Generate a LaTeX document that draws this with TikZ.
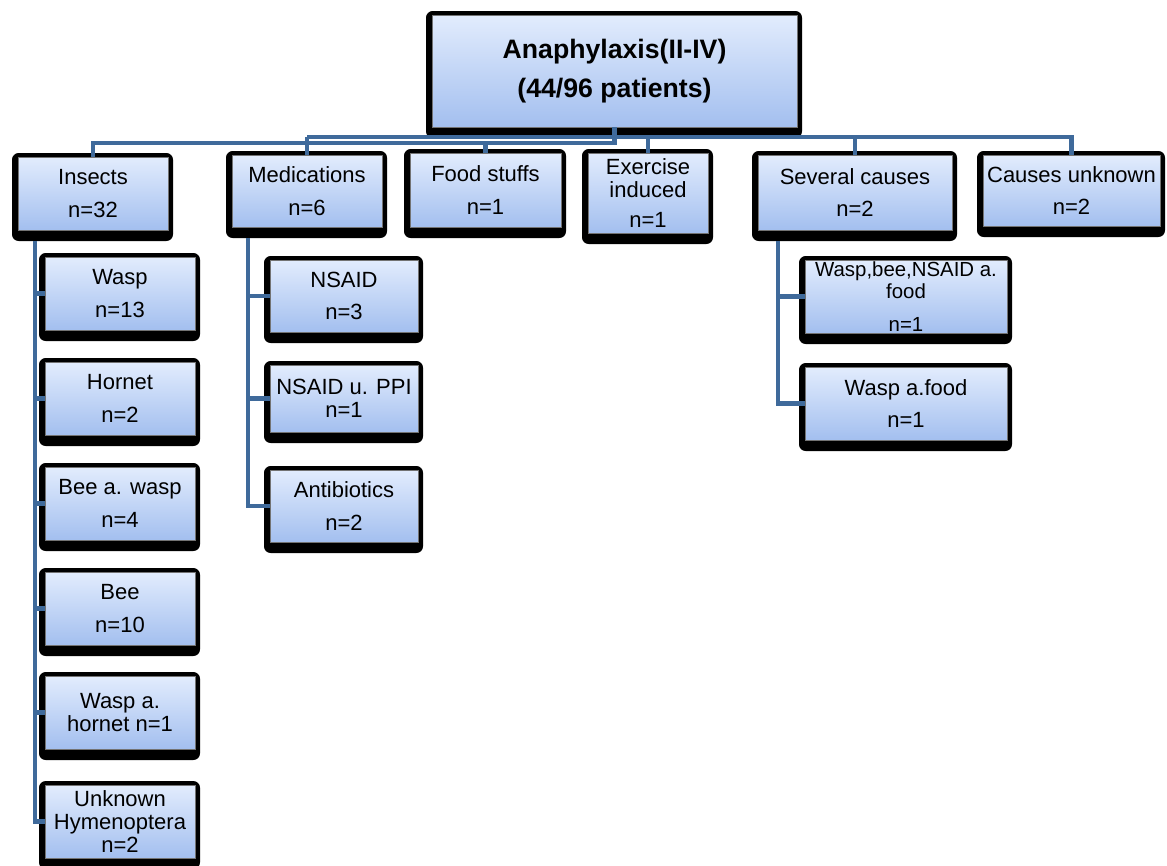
\documentclass[tikz,border=0pt]{standalone}
\usepackage{fontspec}
\setmainfont{Liberation Sans}
\definecolor{boxtop}{HTML}{E2ECFD}
\definecolor{boxbot}{HTML}{A3BFEF}
\definecolor{linec}{HTML}{3F6A9B}
\tikzset{
  conn/.style={draw=linec, line width=3.6pt},
  box/.style={rectangle, draw=black!55, line width=0.4pt, top color=boxtop, bottom color=boxbot,
    inner sep=0pt, align=center, text=black, font=\fontsize{16.5}{17.5}\selectfont},
  topbox/.style={box, font=\fontsize{20}{25}\selectfont\bfseries},
  smallbox/.style={box, font=\fontsize{15.3}{16.5}\selectfont},
  framebox/.style={fill=black, rounded corners=5pt}
}
% name, x1, y1, x2, y2, style, text
\newcommand\mkbox[7]{%
  \fill[framebox] (#2-6,#3-4) rectangle (#4+5,#5+11);
  \node[#6, minimum width={(#4-#2)*0.75pt}, minimum height={(#5-#3)*0.75pt}] (#1) at ({(#2+#4)/2},{(#3+#5)/2}) {#7};
}
\begin{document}
\begin{tikzpicture}[x=0.75pt,y=-0.75pt]
\useasboundingbox (0,0) rectangle (1167,865);
% top
\mkbox{top}{432}{15}{797}{127}{topbox}{Anaphylaxis(II-IV)\\[4pt](44/96 patients)}
% level 1
\mkbox{ins}{18}{157}{168}{230}{box}{Insects\\[7pt]n=32}
\mkbox{med}{232}{155}{382}{227}{box}{Medications\\[7pt]n=6}
\mkbox{food}{410}{153}{561}{227}{box}{Food stuffs\\[7pt]n=1}
\mkbox{exe}{588}{153}{708}{233}{box}{Exercise\\induced\\[5pt]n=1}
\mkbox{sev}{758}{155}{952}{230}{box}{Several causes\\[7pt]n=2}
\mkbox{cu}{983}{155}{1160}{226}{box}{Causes unknown\\[7pt]n=2}
% insects children
\mkbox{wasp}{45}{257}{195}{330}{box}{Wasp\\[7pt]n=13}
\mkbox{hornet}{45}{362}{195}{435}{box}{Hornet\\[7pt]n=2}
\mkbox{beewasp}{45}{467}{195}{540}{box}{Bee a. wasp\\[7pt]n=4}
\mkbox{bee}{45}{572}{195}{645}{box}{Bee\\[7pt]n=10}
\mkbox{wahor}{45}{676}{195}{749}{box}{Wasp a.\\hornet n=1}
\mkbox{hym}{45}{785}{195}{858}{box}{Unknown\\Hymenoptera\\n=2}
% medications children
\mkbox{nsaid}{270}{260}{418}{332}{box}{NSAID\\[7pt]n=3}
\mkbox{ppi}{270}{365}{418}{432}{box}{NSAID u. PPI\\n=1}
\mkbox{anti}{270}{470}{418}{542}{box}{Antibiotics\\[7pt]n=2}
% several causes children
\mkbox{wbnf}{805}{260}{1007}{333}{smallbox}{Wasp,bee,NSAID a.\\food\\[8pt]n=1}
\mkbox{waf}{805}{367}{1007}{440}{box}{Wasp a.food\\[7pt]n=1}
% connector helper coordinates
\coordinate (hl) at (0,143);
\coordinate (hu) at (0,137);
\coordinate (vI) at (35,0);
\coordinate (vM) at (248,0);
\coordinate (vS) at (778,0);
% top-level connectors
\draw[conn] (top.south) -- (top.south |- hl) -| (ins.north);
\draw[conn] (top.south |- hl) -| (food.north);
\draw[conn] (med.north |- hu) -| (cu.north);
\draw[conn] (med.north |- hu) -- (med.north);
\draw[conn] (exe.north |- hu) -- (exe.north);
\draw[conn] (sev.north |- hu) -- (sev.north);
% insects children
\draw[conn] ([yshift=-8.25pt]ins.south -| vI) |- (hym.west);
\foreach \n in {wasp,hornet,beewasp,bee,wahor}
  \draw[conn] (\n.west -| vI) -- (\n.west);
% medications children
\draw[conn] ([yshift=-8.25pt]med.south -| vM) |- (anti.west);
\foreach \n in {nsaid,ppi}
  \draw[conn] (\n.west -| vM) -- (\n.west);
% several causes children
\draw[conn] ([yshift=-8.25pt]sev.south -| vS) |- (waf.west);
\draw[conn] (wbnf.west -| vS) -- (wbnf.west);
\end{tikzpicture}
\end{document}
